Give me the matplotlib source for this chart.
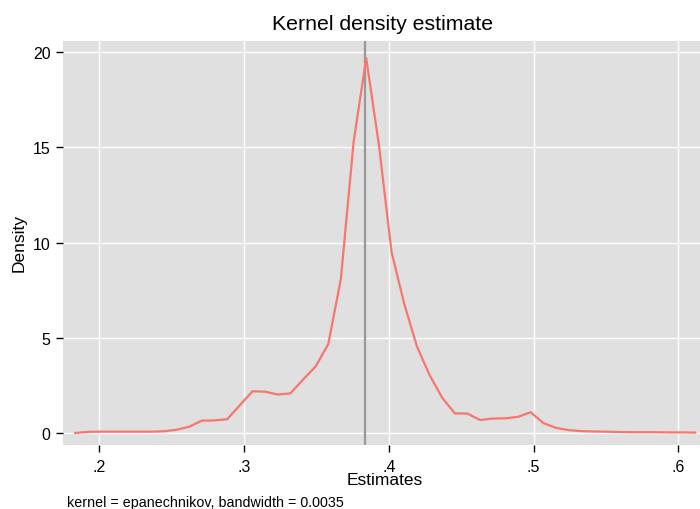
import matplotlib
matplotlib.use("Agg")
import matplotlib.pyplot as plt

plt.rcParams['font.family'] = ['Liberation Sans', 'DejaVu Sans']

# evaluation points of the kernel density (Stata default n = 50)
estimates = [0.1834, 0.1921, 0.2009, 0.2096, 0.2184, 0.2271, 0.2358, 0.2446, 0.2533, 0.2621,
             0.2708, 0.2795, 0.2883, 0.2970, 0.3058, 0.3145, 0.3232, 0.3320, 0.3407, 0.3495,
             0.3582, 0.3669, 0.3757, 0.3844, 0.3932, 0.4019, 0.4106, 0.4194, 0.4281, 0.4369,
             0.4456, 0.4543, 0.4631, 0.4718, 0.4806, 0.4893, 0.4980, 0.5068, 0.5155, 0.5243,
             0.5330, 0.5417, 0.5505, 0.5592, 0.5680, 0.5767, 0.5854, 0.5942, 0.6029, 0.6117]
density = [0.00, 0.06, 0.07, 0.07, 0.07, 0.07, 0.07, 0.09, 0.17, 0.33,
           0.65, 0.66, 0.72, 1.45, 2.19, 2.17, 2.02, 2.08, 2.80, 3.50,
           4.67, 8.10, 15.3, 19.67, 15.1, 9.50, 6.80, 4.55, 3.05, 1.85,
           1.03, 1.02, 0.68, 0.76, 0.77, 0.85, 1.09, 0.52, 0.27, 0.15,
           0.10, 0.08, 0.07, 0.05, 0.04, 0.04, 0.04, 0.03, 0.03, 0.02]
ref_line = 0.3836

x_ticks = [0.2, 0.3, 0.4, 0.5, 0.6]
x_ticklabels = ['.2', '.3', '.4', '.5', '.6']
y_ticks = [0, 5, 10, 15, 20]

fig = plt.figure(figsize=(7, 5.1), dpi=100)
ax = fig.add_axes([63 / 700, 1 - 446 / 510, 637 / 700, 404 / 510])
ax.set_facecolor('#e0e0e0')

ax.plot(estimates, density, color='#f8766d', linewidth=1.6, zorder=3)
ax.axvline(ref_line, color='#999999', linewidth=1.6, zorder=2)

ax.set_xlim(0.1749, 0.6150)
ax.set_ylim(-0.63, 20.58)
ax.set_xticks(x_ticks)
ax.set_xticklabels(x_ticklabels)
ax.set_yticks(y_ticks)
ax.grid(True, color='white', linewidth=1.0)
ax.set_axisbelow(True)

for s in ax.spines.values():
    s.set_visible(False)
ax.tick_params(axis='both', direction='out', length=5, width=1, color='black',
               labelsize=11.5, pad=4)
ax.tick_params(axis='x', pad=5)

fig.text(383 / 700, 1 - 25 / 510, 'Kernel density estimate', ha='center', va='center', fontsize=15.3)
fig.text(385 / 700, 1 - 481 / 510, 'Estimates', ha='center', va='center', fontsize=12.5)
fig.text(19 / 700, 1 - 243 / 510, 'Density', ha='center', va='center', rotation=90, fontsize=12.5)
fig.text(67 / 700, 1 - 503 / 510, 'kernel = epanechnikov, bandwidth = 0.0035',
         ha='left', va='center', fontsize=10.3)

fig.savefig('out.png', dpi=100)
